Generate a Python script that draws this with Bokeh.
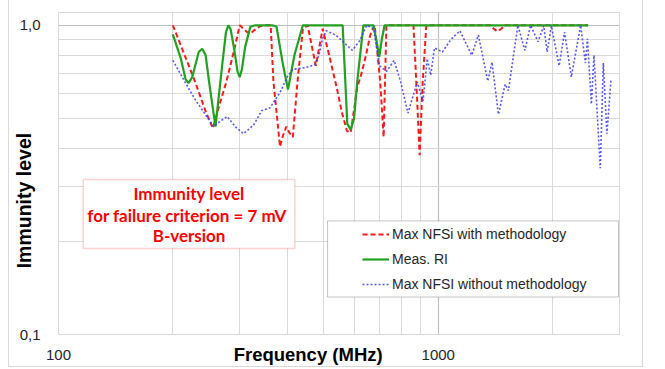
from bokeh.plotting import figure
from bokeh.models import FixedTicker, Label, BoxAnnotation, Legend, LegendItem, Range1d
from bokeh.embed import file_html
from bokeh.resources import INLINE

# ---- data (frequency in MHz, normalized immunity level) ----
freq_red = [200, 227, 245, 255, 265, 277, 290, 300, 314, 320, 330, 340, 352, 362, 368, 383, 390, 398, 405,
            414, 426, 440, 453, 465, 476, 486, 496, 516, 540, 558, 575, 588, 612, 630, 645, 662, 680, 703,
            718, 724, 730, 860, 876, 893, 910, 930, 1370, 1400, 1430, 1465, 1500, 2480]
level_red = [1.0, 0.675, 0.52, 0.465, 0.55, 0.66, 0.83, 1.0, 0.95, 0.94, 0.97, 0.995, 1.0, 1.0, 0.66, 0.405,
             0.44, 0.47, 0.45, 0.435, 0.66, 0.975, 1.0, 0.85, 0.74, 0.85, 0.975, 0.8, 0.63, 0.52, 0.455, 0.45,
             0.63, 0.71, 0.8, 0.93, 1.0, 0.66, 0.435, 0.66, 1.0, 1.0, 0.64, 0.38, 0.66, 1.0, 1.0, 0.975,
             0.955, 0.975, 1.0, 1.0]

freq_green = [200, 210, 216, 220, 225, 234, 239, 244, 249, 259, 270, 276, 280, 284, 290, 296, 300, 304, 310,
              320, 330, 350, 365, 375, 390, 402, 418, 440, 560, 576, 588, 600, 612, 635, 675, 690, 699, 710,
              722, 2480]
level_green = [0.935, 0.78, 0.67, 0.65, 0.68, 0.82, 0.84, 0.8, 0.66, 0.47, 0.75, 0.95, 1.0, 0.97, 0.84, 0.71,
               0.68, 0.72, 0.85, 0.99, 1.0, 1.0, 1.0, 0.99, 0.745, 0.62, 0.8, 1.0, 1.0, 0.48, 0.46, 0.5, 0.66,
               1.0, 1.0, 0.87, 0.79, 0.9, 1.0, 1.0]

freq_blue = [200, 227, 256, 267, 278, 292, 307, 326, 343, 360, 383, 400, 414, 448, 472, 485, 496, 507, 537,
             553, 594, 620, 648, 676, 700, 731, 765, 795, 832, 880, 912, 935, 955, 977, 1025, 1080, 1140,
             1225, 1275, 1350, 1385, 1440, 1500, 1530, 1620, 1690, 1750, 1830, 1895, 1935, 1985, 2080, 2150,
             2240, 2370, 2440, 2470, 2530, 2570, 2670, 2720, 2780, 2850]
level_blue = [0.77, 0.585, 0.47, 0.49, 0.507, 0.47, 0.446, 0.475, 0.53, 0.54, 0.606, 0.68, 0.72, 0.73, 0.745,
              0.8, 0.907, 0.96, 0.93, 0.9, 0.83, 0.89, 1.0, 0.975, 0.74, 0.71, 0.77, 0.66, 0.52, 0.655, 0.57,
              0.78, 0.69, 0.845, 0.82, 0.9, 0.96, 0.8, 0.93, 0.66, 0.76, 0.515, 0.645, 0.615, 1.0, 0.83, 1.0,
              0.885, 0.995, 0.82, 0.995, 0.74, 0.95, 0.68, 1.0, 0.755, 0.905, 0.556, 0.8, 0.345, 0.755, 0.446,
              0.67]

x_major = [100, 1000]
x_minor = [200, 300, 400, 500, 600, 700, 800, 900, 2000, 3000]
y_major = [0.1, 1.0]
y_minor = [0.2, 0.3, 0.4, 0.5, 0.6, 0.7, 0.8, 0.9]
x_tick_labels = {100: "100", 1000: "1000"}
y_tick_labels = {0.1: "0,1", 1.0: "1,0"}

x_title = "Frequency (MHz)"
y_title = "Immunity level"
series_names = ["Max NFSi with methodology", "Meas. RI", "Max NFSI without methodology"]
note_lines = ["Immunity level", "for failure criterion =  7 mV", "B-version"]

p = figure(width=635, height=367, x_axis_type="log", y_axis_type="log",
           x_range=Range1d(100, 3000), y_range=Range1d(0.1, 1.1),
           output_backend="svg", toolbar_location=None,
           min_border_left=45, min_border_right=25, min_border_top=12, min_border_bottom=29)
p.styles = {"margin-left": "8px",
            "border-left": "1px solid #d9d9d9",
            "border-right": "1px solid #d9d9d9",
            "border-bottom": "1px solid #d9d9d9"}
p.outline_line_color = "#d9d9d9"
p.background_fill_color = "white"
p.border_fill_color = "white"

for ax, major, minor, labels in [(p.xaxis[0], x_major, x_minor, x_tick_labels),
                                 (p.yaxis[0], y_major, y_minor, y_tick_labels)]:
    ax.ticker = FixedTicker(ticks=major, minor_ticks=minor)
    ax.major_label_overrides = labels
    ax.axis_line_color = None
    ax.major_tick_line_color = None
    ax.minor_tick_line_color = None
    ax.major_label_text_font = "Liberation Sans"
    ax.major_label_text_font_size = "15px"
    ax.major_label_text_color = "#262626"
    ax.axis_label_text_font = "Liberation Sans"
    ax.axis_label_text_font_style = "bold"
    ax.axis_label_text_color = "black"
p.xaxis.major_label_standoff = 9
p.yaxis.major_label_standoff = 12
# trailing blanks move the (frame-centred) titles to where the reference has them
p.xaxis.axis_label = x_title + " " * 12
p.xaxis.axis_label_text_font_size = "18.5px"
p.xaxis.axis_label_standoff = -19
p.yaxis.axis_label = y_title + " " * 10
p.yaxis.axis_label_text_font_size = "19.5px"
p.yaxis.axis_label_standoff = -18

for g in (p.xgrid[0], p.ygrid[0]):
    g.grid_line_color = "#bfbfbf"
    g.grid_line_width = 1.2
    g.minor_grid_line_color = "#d9d9d9"
    g.minor_grid_line_width = 1

r_red = p.line(freq_red, level_red, line_color="#ff1a1a", line_width=2, line_dash="5 3")
r_green = p.line(freq_green, level_green, line_color="#22a022", line_width=2.2)
r_blue = p.line(freq_blue, level_blue, line_color="#3b3bff", line_width=1.6, line_dash="2 2",
                line_alpha=0.85)
p.renderers = [r_red, r_green, r_blue]

# annotation box
p.add_layout(BoxAnnotation(left=116.2, right=419, top=0.317, bottom=0.1896,
                           fill_color="white", fill_alpha=1.0,
                           line_color="#ff6666", line_width=1.5))
for txt, yv in zip(note_lines, [0.2862, 0.2434, 0.2086]):
    p.add_layout(Label(x=220.7, y=yv, text=txt, text_align="center", text_baseline="middle",
                       text_font="Lato", text_font_style="bold", text_font_size="17px",
                       text_color="#ff0000"))

# legend frame
p.add_layout(BoxAnnotation(left=511, right=2982, top=0.2330, bottom=0.1322,
                           fill_color="white", fill_alpha=1.0,
                           line_color="#404040", line_width=1))
legend = Legend(items=[LegendItem(label=series_names[0], renderers=[r_red]),
                       LegendItem(label=series_names[1], renderers=[r_green]),
                       LegendItem(label=series_names[2], renderers=[r_blue])],
                location=(304, 40), padding=0, margin=0, spacing=5,
                glyph_width=27, glyph_height=20, label_height=20, label_standoff=3,
                label_text_font="Liberation Sans", label_text_font_size="14px",
                label_text_color="#262626",
                border_line_color=None, background_fill_alpha=0)
p.add_layout(legend)

open("out.html", "w").write(file_html(p, INLINE))
